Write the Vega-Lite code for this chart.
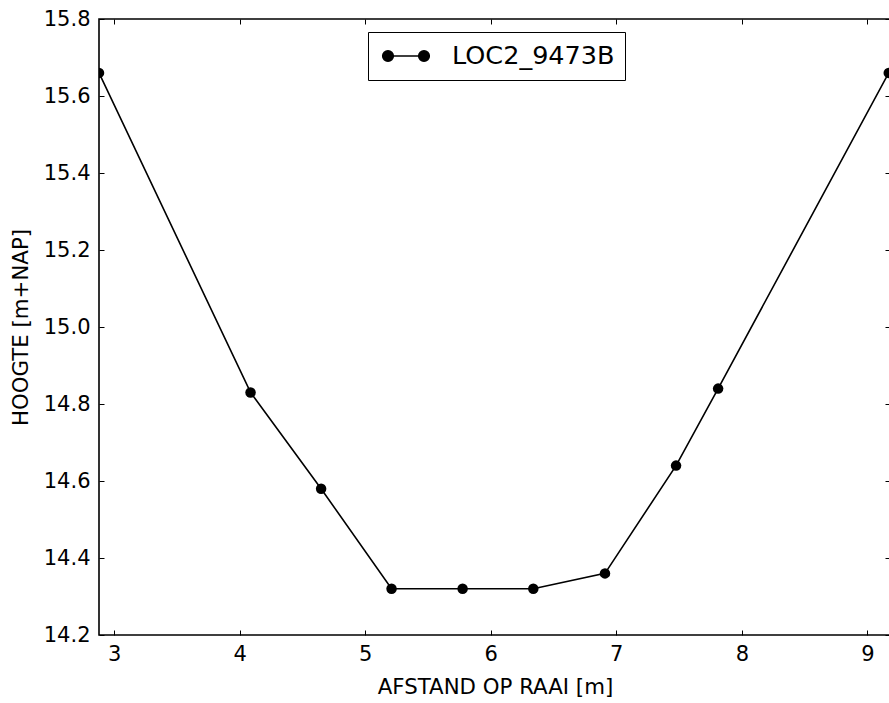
{
  "$schema": "https://vega.github.io/schema/vega-lite/v6.json",
  "width": 791,
  "height": 616,
  "autosize": {"type": "none"},
  "padding": {"left": 99, "top": 19, "right": 0, "bottom": 68},
  "background": "white",
  "config": {
    "font": "DejaVu Sans",
    "view": {"stroke": "black", "strokeWidth": 1.6},
    "axis": {
      "domain": false,
      "grid": false,
      "tickColor": "black",
      "tickWidth": 1,
      "tickSize": -5,
      "labelFont": "DejaVu Sans",
      "labelFontSize": 21,
      "labelColor": "black",
      "titleFont": "DejaVu Sans",
      "titleFontSize": 21.3,
      "titleFontWeight": "normal",
      "titleColor": "black"
    }
  },
  "data": {
    "values": [
      {"afstand": 2.88, "hoogte": 15.66, "serie": "LOC2_9473B"},
      {"afstand": 4.087, "hoogte": 14.83, "serie": "LOC2_9473B"},
      {"afstand": 4.649, "hoogte": 14.58, "serie": "LOC2_9473B"},
      {"afstand": 5.21, "hoogte": 14.32, "serie": "LOC2_9473B"},
      {"afstand": 5.776, "hoogte": 14.32, "serie": "LOC2_9473B"},
      {"afstand": 6.339, "hoogte": 14.32, "serie": "LOC2_9473B"},
      {"afstand": 6.91, "hoogte": 14.36, "serie": "LOC2_9473B"},
      {"afstand": 7.476, "hoogte": 14.64, "serie": "LOC2_9473B"},
      {"afstand": 7.811, "hoogte": 14.84, "serie": "LOC2_9473B"},
      {"afstand": 9.17, "hoogte": 15.66, "serie": "LOC2_9473B"}
    ]
  },
  "encoding": {
    "color": {
      "field": "serie",
      "type": "nominal",
      "scale": {"range": ["black"]},
      "legend": {
        "orient": "none",
        "legendX": 269,
        "legendY": 13,
        "title": null,
        "strokeColor": "black",
        "fillColor": "white",
        "padding": 10,
        "cornerRadius": 0,
        "labelFont": "DejaVu Sans",
        "labelFontSize": 25.5,
        "labelLimit": 400,
        "labelColor": "black",
        "labelOffset": 46,
        "symbolType": "M-0.308,0L2.462,0M-0.716,0A0.408,0.408 0 1,0 0.1,0A0.408,0.408 0 1,0 -0.716,0ZM2.054,0A0.408,0.408 0 1,0 2.87,0A0.408,0.408 0 1,0 2.054,0Z",
        "symbolSize": 676,
        "symbolStrokeWidth": 1.6,
        "symbolFillColor": "black",
        "symbolStrokeColor": "black",
        "symbolOpacity": 1
      }
    }
  },
  "layer": [
    {
      "mark": {"type": "line", "strokeWidth": 1.6, "clip": true},
      "encoding": {
        "x": {
          "field": "afstand",
          "type": "quantitative",
          "scale": {"domain": [2.88, 9.18], "nice": false, "zero": false},
          "axis": {
            "orient": "bottom",
            "values": [3, 4, 5, 6, 7, 8, 9],
            "format": "d",
            "labelBaseline": "alphabetic",
            "labelPadding": 30,
            "title": "AFSTAND OP RAAI [m]",
            "titleX": 396,
            "titleY": 58,
            "titleBaseline": "alphabetic",
            "titleAlign": "center"
          }
        },
        "y": {
          "field": "hoogte",
          "type": "quantitative",
          "scale": {"domain": [14.2, 15.8], "nice": false, "zero": false},
          "axis": {
            "orient": "left",
            "values": [14.2, 14.4, 14.6, 14.8, 15.0, 15.2, 15.4, 15.6, 15.8],
            "format": ".1f",
            "labelBaseline": "middle",
            "labelPadding": 14,
            "title": "HOOGTE [m+NAP]",
            "titleX": -78,
            "titleY": 308,
            "titleAngle": -90,
            "titleBaseline": "middle",
            "titleAlign": "center"
          }
        }
      }
    },
    {
      "mark": {"type": "point", "filled": true, "size": 110, "opacity": 1, "clip": true},
      "encoding": {
        "x": {
          "field": "afstand",
          "type": "quantitative",
          "axis": {
            "orient": "top",
            "values": [3, 4, 5, 6, 7, 8, 9],
            "labels": false,
            "title": null
          }
        },
        "y": {
          "field": "hoogte",
          "type": "quantitative",
          "axis": {
            "orient": "right",
            "values": [14.2, 14.4, 14.6, 14.8, 15.0, 15.2, 15.4, 15.6, 15.8],
            "labels": false,
            "title": null
          }
        }
      }
    }
  ],
  "resolve": {"axis": {"x": "independent", "y": "independent"}}
}
